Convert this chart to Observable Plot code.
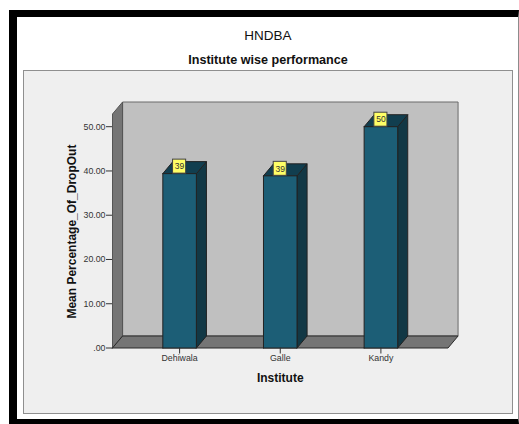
<!DOCTYPE html>
<html>
<head>
<meta charset="utf-8">
<script src="https://cdn.jsdelivr.net/npm/d3@7"></script>
<script src="https://cdn.jsdelivr.net/npm/@observablehq/plot@0.6"></script>
<style>
  html, body { margin: 0; padding: 0; background: #fff; }
  body { position: relative; width: 519px; height: 424px; overflow: hidden; font-family: "Liberation Sans", Arial, sans-serif; }
  #frame { position: absolute; box-sizing: border-box; left: 9px; top: 10px; width: 510px; height: 414px;
           background: #fff; border-style: solid; border-color: #000 #8c8c8c #000 #000; border-width: 7px 1px 5px 8px; }
  #panel { position: absolute; box-sizing: border-box; left: 23px; top: 70px; width: 490px; height: 344px;
           background: #efefef; border: 1px solid #8f8f8f; }
  .title { position: absolute; left: 17px; width: 502px; text-align: center; color: #111; }
  #title { top: 28px; font-size: 13.5px; }
  #subtitle { top: 53px; font-size: 12.6px; font-weight: bold; }
  #chart { position: absolute; left: 0; top: 0; }
  #chart svg { display: block; }
</style>
</head>
<body>
<div id="frame"></div>
<div id="panel"></div>
<div class="title" id="title">HNDBA</div>
<div class="title" id="subtitle">Institute wise performance</div>
<div id="chart"></div>
<script>
// Mean drop-out percentage per institute
const institutes = ["Dehiwala", "Galle", "Kandy"];
const meanDropOut = [39.4, 38.9, 50];
const yTicks = [0, 10, 20, 30, 40, 50];

// Box-chart proportions, in scale units
const barHalf = 1 / 6;
const depthX = 0.1;
const depthY = 2.71;
const xMin = -2 / 3;
const xMax = 8 / 3;
const wallTop = 52.87;
const labelHalf = 0.065;
const labelHeight = 3.16;

// A closed, filled polygon drawn with the line mark
const face = (corners, fill, stroke = "#222") =>
  Plot.line([...corners, corners[0]], {x: "0", y: "1", fill, stroke, strokeWidth: 1, strokeLinejoin: "miter"});

const bars = institutes.map((name, i) => ({name, i, value: meanDropOut[i], label: String(Math.round(meanDropOut[i]))}));

const chart = Plot.plot({
  width: 519,
  height: 424,
  marginLeft: 112,
  marginRight: 71.5,
  marginTop: 126.2,
  marginBottom: 76.5,
  style: {background: "transparent", overflow: "visible", fontFamily: "'Liberation Sans', Arial, sans-serif"},
  x: {domain: [xMin, xMax]},
  y: {domain: [0, 50]},
  marks: [
    // Back wall, left wall and floor
    face([[xMin + depthX, depthY], [xMax + depthX, depthY], [xMax + depthX, wallTop + depthY], [xMin + depthX, wallTop + depthY]], "#c0c0c0", "#6a6a6a"),
    face([[xMin, 0], [xMin + depthX, depthY], [xMin + depthX, wallTop + depthY], [xMin, wallTop]], "#757575", "#555"),
    face([[xMin, 0], [xMax, 0], [xMax + depthX, depthY], [xMin + depthX, depthY]], "#757575", "#2a2a2a"),

    // Each bar: side, roof, front
    ...bars.flatMap(({i, value}) => [
      face([[i + barHalf, 0], [i + barHalf + depthX, depthY], [i + barHalf + depthX, value + depthY], [i + barHalf, value]], "#123845"),
      face([[i - barHalf, value], [i + barHalf, value], [i + barHalf + depthX, value + depthY], [i - barHalf + depthX, value + depthY]], "#113e4f"),
      face([[i - barHalf, 0], [i + barHalf, 0], [i + barHalf, value], [i - barHalf, value]], "#1c5e76")
    ]),

    // Value tags
    Plot.rect(bars, {
      x1: (d) => d.i - labelHalf,
      x2: (d) => d.i + labelHalf,
      y1: "value",
      y2: (d) => d.value + labelHeight,
      fill: "#ffff66",
      stroke: "#444",
      strokeWidth: 1
    }),
    Plot.text(bars, {
      x: "i",
      y: (d) => d.value + labelHeight / 2,
      text: "label",
      fontSize: 8.5,
      fill: "#333",
      textAnchor: "middle"
    }),

    // Axes
    Plot.axisY({
      ticks: yTicks,
      tickFormat: d3.format(".2f"),
      tickSize: 6,
      tickPadding: 1,
      fontSize: 8.8,
      color: "#333",
      label: null
    }),
    Plot.text(["Mean Percentage_Of_DropOut"], {
      x: xMin,
      y: 26.3,
      text: (d) => d,
      rotate: -90,
      dx: -40,
      fontSize: 12,
      fontWeight: "bold",
      fill: "#111"
    }),
    Plot.axisX({
      ticks: [0, 1, 2],
      tickFormat: (i) => institutes[i],
      tickSize: 6,
      tickPadding: 1,
      fontSize: 8.8,
      color: "#333",
      label: null
    }),
    Plot.text(["Institute"], {
      x: 1,
      y: 0,
      text: (d) => d,
      dy: 30.5,
      fontSize: 12,
      fontWeight: "bold",
      fill: "#111"
    })
  ]
});
document.getElementById("chart").append(chart);

// Zero is printed without its leading digit
d3.select(chart).selectAll("text").filter(function () { return this.textContent === "0.00"; }).text(".00");
</script>
</body>
</html>
